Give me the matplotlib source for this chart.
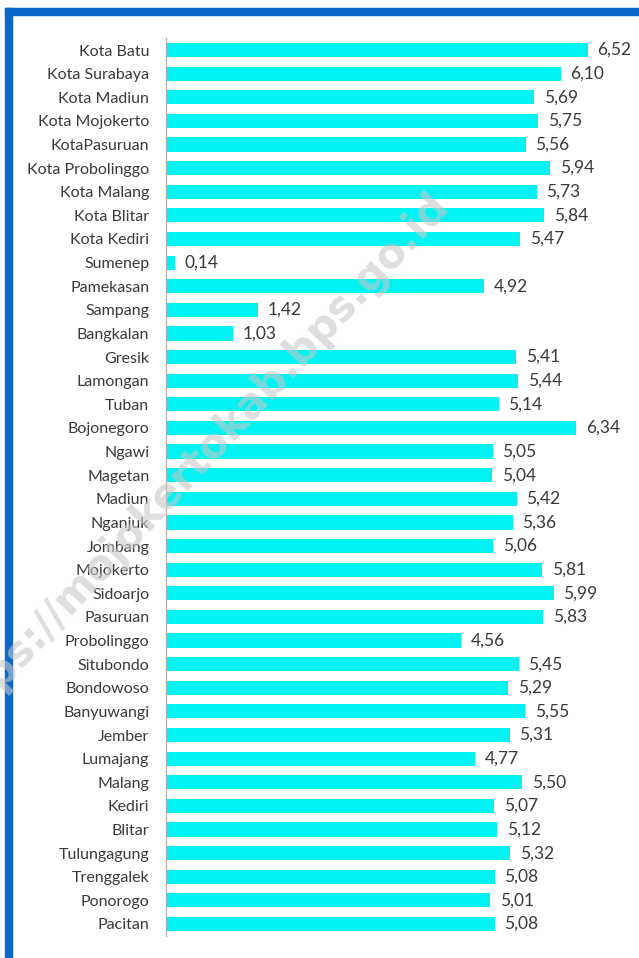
import matplotlib
matplotlib.use("Agg")
import matplotlib.pyplot as plt
from matplotlib.patches import Rectangle

categories = ["Kota Batu", "Kota Surabaya", "Kota Madiun", "Kota Mojokerto", "KotaPasuruan",
              "Kota Probolinggo", "Kota Malang", "Kota Blitar", "Kota Kediri", "Sumenep",
              "Pamekasan", "Sampang", "Bangkalan", "Gresik", "Lamongan", "Tuban",
              "Bojonegoro", "Ngawi", "Magetan", "Madiun", "Nganjuk", "Jombang",
              "Mojokerto", "Sidoarjo", "Pasuruan", "Probolinggo", "Situbondo", "Bondowoso",
              "Banyuwangi", "Jember", "Lumajang", "Malang", "Kediri", "Blitar",
              "Tulungagung", "Trenggalek", "Ponorogo", "Pacitan"]
values = [6.52, 6.10, 5.69, 5.75, 5.56, 5.94, 5.73, 5.84, 5.47, 0.14,
          4.92, 1.42, 1.03, 5.41, 5.44, 5.14, 6.34, 5.05, 5.04, 5.42,
          5.36, 5.06, 5.81, 5.99, 5.83, 4.56, 5.45, 5.29, 5.55, 5.31,
          4.77, 5.50, 5.07, 5.12, 5.32, 5.08, 5.01, 5.08]
value_labels = [f"{v:.2f}".replace(".", ",") for v in values]

W, H = 639, 958
fig = plt.figure(figsize=(W / 100, H / 100), dpi=100)
fig.patch.set_facecolor("white")

# blue frame (left and top)
blue = "#0b67c9"
fig.patches.append(Rectangle((5 / W, 0), 7 / W, 1 - 8 / H, transform=fig.transFigure,
                             color=blue, zorder=0))
fig.patches.append(Rectangle((5 / W, 1 - 15 / H), 1 - 5 / W, 7 / H, transform=fig.transFigure,
                             color=blue, zorder=0))

ax_left = 166 / W
ax_w = 7.0 * 64.7 / W
ax_top = 38.2
ax_bot = 935.8
ax = fig.add_axes([ax_left, 1 - ax_bot / H, ax_w, (ax_bot - ax_top) / H])
ax.set_facecolor("none")

y = list(range(len(categories)))
ax.barh(y, values, height=0.6, color="#00F2F2", zorder=2)
ax.set_xlim(0, 7.0)
ax.set_ylim(len(categories) - 0.5, -0.5)

ax.set_yticks(y)
ax.set_yticklabels(categories, fontsize=11.5, color="#3a3a3a", family="Lato")
ax.tick_params(axis="y", length=0, pad=12)
ax.set_xticks([])
for s in ["top", "right", "bottom"]:
    ax.spines[s].set_visible(False)
ax.spines["left"].set_color("#b0b0b0")
ax.spines["left"].set_linewidth(0.9)

for yi, v, lab in zip(y, values, value_labels):
    ax.annotate(lab, (v, yi), xytext=(7, 0), textcoords="offset points",
                va="center", ha="left", fontsize=12.5, color="#3a3a3a", family="Lato")

# watermark
fig.text(193 / W, 1 - 465 / H, "https://mojokertokab.bps.go.id", rotation=47,
         ha="center", va="center", fontsize=30, fontweight="bold",
         color="#c8c8c8", alpha=0.6, family="DejaVu Sans", zorder=5)

fig.savefig("out.png", dpi=100)
